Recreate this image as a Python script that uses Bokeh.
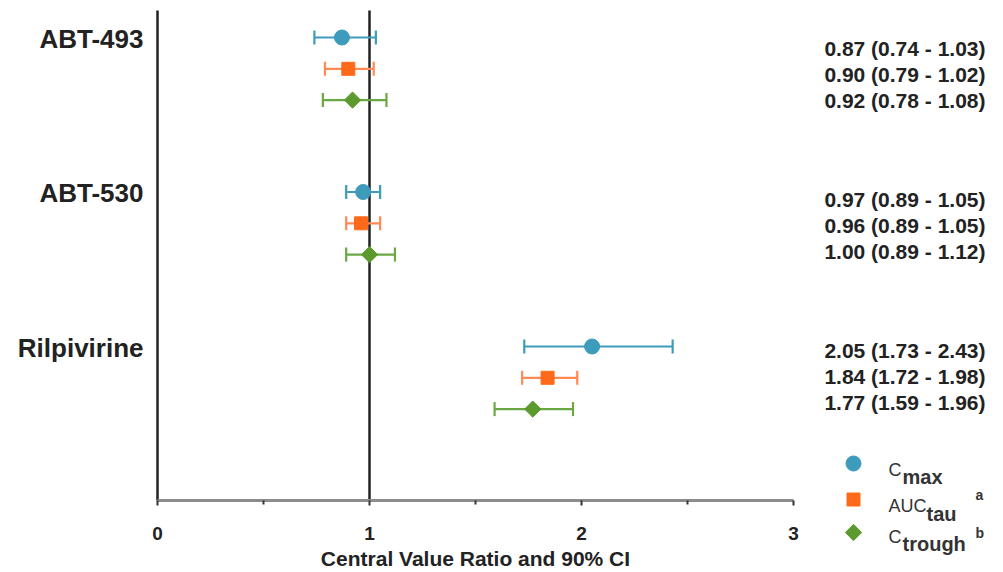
from bokeh.plotting import figure
from bokeh.models import Range1d, LinearAxis, FixedTicker
from bokeh.core.properties import value
from bokeh.embed import file_html
from bokeh.resources import INLINE

# ---------------- data ----------------
drugs = ["ABT-493", "ABT-530", "Rilpivirine"]
cmax_est = [0.87, 0.97, 2.05]
cmax_lo = [0.74, 0.89, 1.73]
cmax_hi = [1.03, 1.05, 2.43]
auc_est = [0.90, 0.96, 1.84]
auc_lo = [0.79, 0.89, 1.72]
auc_hi = [1.02, 1.05, 1.98]
ctr_est = [0.92, 1.00, 1.77]
ctr_lo = [0.78, 0.89, 1.59]
ctr_hi = [1.08, 1.12, 1.96]
x_ticks = [0, 1, 2, 3]
x_minor_ticks = [0.5, 1.5, 2.5]
ref_value = 1
axis_label = "Central Value Ratio and 90% CI"

# ---------------- layout ----------------
W, H = 1003, 572
X0_PX, PX_PER_UNIT = 157, 212


def xd(px):
    return (px - X0_PX) / PX_PER_UNIT


AXIS_Y = 500
TOP_Y = 10
ROW0, GROUP_STEP, ROW_STEP = 37, 154.5, 31.3
TXT0, TXT_GSTEP, TXT_STEP = 48, 151, 26
FONT = value("Liberation Sans")
DARK = "#222222"

p = figure(width=W, height=H, x_range=Range1d(xd(0), xd(W)), y_range=Range1d(H, 0),
           output_backend="svg", toolbar_location=None, x_axis_location=None,
           y_axis_location=None, min_border=0, outline_line_color=None)
p.grid.visible = False
p.background_fill_color = "white"
p.border_fill_color = "white"

ax = LinearAxis(fixed_location=AXIS_Y, bounds=(x_ticks[0], x_ticks[-1]),
                ticker=FixedTicker(ticks=x_ticks, minor_ticks=x_minor_ticks),
                axis_label=axis_label)
ax.axis_line_color = "#8c8c8c"
ax.axis_line_width = 3
ax.major_tick_line_color = "#333333"
ax.major_tick_line_width = 2
ax.major_tick_out = 5
ax.major_tick_in = 0
ax.minor_tick_line_color = "#333333"
ax.minor_tick_line_width = 2
ax.minor_tick_out = 4
ax.minor_tick_in = 0
ax.major_label_text_font = "Liberation Sans"
ax.major_label_text_font_style = "bold"
ax.major_label_text_font_size = "19px"
ax.major_label_text_color = DARK
ax.major_label_standoff = 21
ax.axis_label_text_font = "Liberation Sans"
ax.axis_label_text_font_style = "bold"
ax.axis_label_text_font_size = "21px"
ax.axis_label_text_color = DARK
ax.axis_label_standoff = 4
p.add_layout(ax, "below")

# vertical axis line at 0 and reference line at 1
p.segment(x0=[x_ticks[0], ref_value], x1=[x_ticks[0], ref_value], y0=[TOP_Y, TOP_Y],
          y1=[AXIS_Y, AXIS_Y], line_color="#222222", line_width=2.5)

series = [
    (cmax_est, cmax_lo, cmax_hi, "circle", 15, 0, "#3d9bbb", "#3d9bbb"),
    (auc_est, auc_lo, auc_hi, "square", 13, 0, "#ff6a1a", "#ff8a55"),
    (ctr_est, ctr_lo, ctr_hi, "square", 11.5, 0.7854, "#5c9a2e", "#6aa844"),
]
CAP = 7
for m, (est, lo, hi, mk, sz, ang, mcol, bcol) in enumerate(series):
    ys = [ROW0 + GROUP_STEP * g + ROW_STEP * m for g in range(len(drugs))]
    p.segment(x0=lo, x1=hi, y0=ys, y1=ys, line_color=bcol, line_width=2.2)
    p.segment(x0=lo, x1=lo, y0=[y - CAP for y in ys], y1=[y + CAP for y in ys],
              line_color=bcol, line_width=2.2)
    p.segment(x0=hi, x1=hi, y0=[y - CAP for y in ys], y1=[y + CAP for y in ys],
              line_color=bcol, line_width=2.2)
    p.scatter(x=est, y=ys, marker=mk, size=sz, angle=ang, fill_color=mcol,
              line_color=mcol)
    labels = [f"{e:.2f} ({a:.2f} - {b:.2f})" for e, a, b in zip(est, lo, hi)]
    ty = [TXT0 + TXT_GSTEP * g + TXT_STEP * m for g in range(len(drugs))]
    p.text(x=[xd(985)] * len(drugs), y=ty, text=labels, text_align="right",
           text_baseline="middle", text_font=FONT, text_font_style="bold",
           text_font_size="21px", text_color=DARK)

# drug labels
p.text(x=[xd(143)] * len(drugs), y=[ROW0 + 1 + GROUP_STEP * g for g in range(len(drugs))],
       text=drugs, text_align="right", text_baseline="middle", text_font=FONT,
       text_font_style="bold", text_font_size="26px", text_color=DARK)

# legend
LEG_X = xd(853)
leg_y = [463, 499, 532]
for m, (est, lo, hi, mk, sz, ang, mcol, bcol) in enumerate(series):
    p.scatter(x=[LEG_X], y=[leg_y[m]], marker=mk, size=sz, angle=ang,
              fill_color=mcol, line_color=mcol)

main_txt = ["C", "AUC", "C"]
main_base = [469, 505, 536]
sub_txt = ["max", "tau", "trough"]
sub_x = [902, 926, 902]
sub_base = [476, 513, 543]
sup_txt = ["", "a", "b"]
sup_base = [493, 494, 532]
p.text(x=[xd(888)] * 3, y=main_base, text=main_txt, text_align="left",
       text_baseline="alphabetic", text_font=FONT, text_font_size="18px",
       text_color="#333333")
p.text(x=[xd(v) for v in sub_x], y=sub_base, text=sub_txt, text_align="left",
       text_baseline="alphabetic", text_font=FONT, text_font_style="bold",
       text_font_size="20px", text_color="#333333")
p.text(x=[xd(975)] * 2, y=sup_base[1:], text=sup_txt[1:], text_align="left",
       text_baseline="alphabetic", text_font=FONT, text_font_style="bold",
       text_font_size="14px", text_color="#333333")

open("out.html", "w").write(file_html(p, INLINE))
